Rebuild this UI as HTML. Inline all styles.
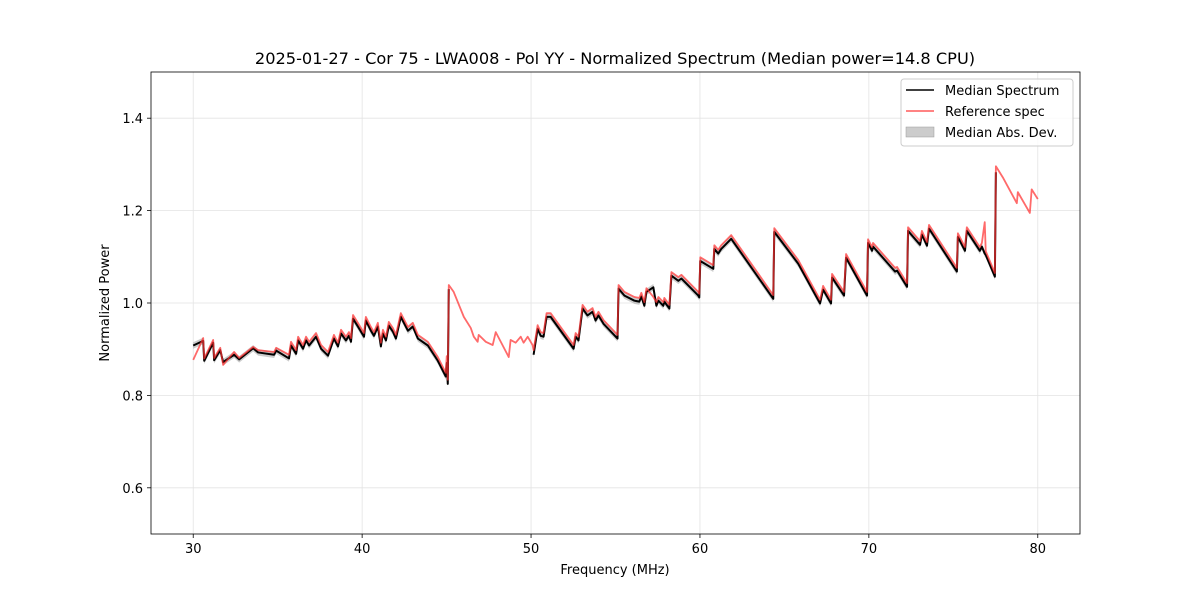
<!DOCTYPE html>
<html><head><meta charset="utf-8"><style>
body{margin:0;background:#fff;}
svg{display:block;font-family:"DejaVu Sans","Liberation Sans",sans-serif;}
</style></head><body>
<svg id="chart" width="1200" height="600">
<rect width="1200" height="600" fill="#fff"/>
<text x="615" y="64" font-size="16.2" text-anchor="middle">2025-01-27 - Cor 75 - LWA008 - Pol YY - Normalized Spectrum (Median power=14.8 CPU)</text>
<g id="grid"></g><g id="marks"></g><g id="axes"></g>
<text x="615" y="574" font-size="13" text-anchor="middle">Frequency (MHz)</text>
<text transform="translate(109,303) rotate(-90)" font-size="13" text-anchor="middle">Normalized Power</text>
<g>
<rect x="901" y="79" width="172" height="67" rx="3" fill="#fff" fill-opacity="0.8" stroke="#ccc"/>
<line x1="906" y1="90" x2="934" y2="90" stroke="#000" stroke-width="1.5"/>
<text x="945" y="95" font-size="13">Median Spectrum</text>
<line x1="906" y1="111" x2="934" y2="111" stroke="#ff5a5a" stroke-width="1.5"/>
<text x="945" y="116" font-size="13">Reference spec</text>
<rect x="906" y="127" width="28" height="10" fill="#bbb" fill-opacity="0.75" stroke="#999" stroke-width="0.5"/>
<text x="945" y="137" font-size="13">Median Abs. Dev.</text>
</g>
</svg>
<script>
const freqs=[30.0,30.59,30.65,31.18,31.24,31.60,31.77,32.42,32.72,33.55,33.84,34.79,34.91,35.67,35.79,36.09,36.21,36.50,36.68,36.86,37.27,37.57,37.98,38.33,38.57,38.75,39.04,39.22,39.34,39.46,39.75,40.11,40.22,40.52,40.70,40.93,41.11,41.23,41.41,41.58,41.82,42.00,42.29,42.71,43.00,43.30,43.89,44.48,44.95,45.01,45.07,45.13,
45.42,46.02,46.43,46.61,46.84,46.90,47.32,47.73,47.91,48.68,48.79,49.09,49.39,49.56,49.80,50.09,
50.15,50.39,50.57,50.74,50.92,51.16,52.52,52.64,52.81,53.05,53.34,53.64,53.82,53.99,54.29,55.12,55.18,55.53,56.12,56.41,56.53,56.71,56.83,57.24,57.42,57.54,57.83,57.89,58.19,58.31,58.72,58.90,59.90,59.96,60.02,60.79,60.85,61.08,61.26,61.85,64.34,64.40,65.82,67.11,67.29,67.76,67.82,68.53,68.65,69.89,69.95,70.19,70.25,71.55,71.67,72.26,72.32,73.03,73.14,73.44,73.56,75.21,75.27,75.69,75.80,76.57,76.69,76.86,76.92,77.46,77.52,
77.93,78.76,78.82,79.53,79.64,80.0];
const refPower=[.877,.924,.880,.920,.881,.903,.866,.894,.881,.905,.898,.894,.903,.888,.916,.898,.927,.909,.927,.916,.935,.909,.894,.931,.914,.942,.927,.937,.924,.974,.957,.935,.970,.948,.937,.957,.914,.942,.927,.959,.946,.931,.978,.948,.957,.931,.916,.883,.849,.885,.834,1.039,
1.024,.970,.946,.927,.916,.931,.916,.909,.937,.883,.920,.914,.927,.914,.927,.909,
.898,.952,.937,.935,.978,.978,.909,.935,.927,.996,.981,.989,.970,.981,.963,.931,1.039,1.024,1.013,1.011,1.022,1.002,1.032,1.013,1.002,1.013,1.002,1.011,.996,1.067,1.056,1.061,1.024,1.020,1.099,1.082,1.125,1.115,1.125,1.147,1.017,1.162,1.093,1.007,1.037,1.007,1.063,1.024,1.106,1.024,1.138,1.121,1.130,1.076,1.078,1.043,1.164,1.134,1.156,1.132,1.169,1.076,1.151,1.121,1.164,1.121,1.130,1.175,1.112,1.065,1.296,
1.272,1.216,1.240,1.195,1.246,1.225];
const medPower=[.908,.918,.875,.914,.876,.898,.872,.888,.878,.902,.893,.888,.897,.880,.908,.890,.919,.901,.919,.908,.927,.901,.886,.923,.906,.934,.919,.929,.916,.966,.949,.927,.962,.940,.929,.949,.906,.934,.919,.951,.938,.923,.970,.940,.949,.923,.908,.875,.841,.870,.825,1.030,
null,null,null,null,null,null,null,null,null,null,null,null,null,null,null,null,
.888,.944,.929,.927,.970,.970,.901,.927,.919,.988,.973,.981,.962,.973,.955,.923,1.031,1.016,1.005,1.003,1.014,.994,1.024,1.034,.994,1.005,.994,1.003,.988,1.059,1.048,1.053,1.016,1.012,1.091,1.074,1.117,1.107,1.117,1.139,1.009,1.154,1.085,.999,1.029,.999,1.055,1.016,1.098,1.016,1.130,1.113,1.122,1.068,1.070,1.035,1.156,1.126,1.148,1.124,1.161,1.068,1.143,1.113,1.156,1.113,1.122,1.107,1.104,1.057,1.283,
null,null,null,null,null,null];
const madWidth=[0.007];
const xTicks=[30,40,50,60,70,80];
const yTicks=[0.6,0.8,1.0,1.2,1.4];
const yTickLabels=["0.6","0.8","1.0","1.2","1.4"];

const L=151,R=1080,T=72,B=534;
const x=f=>L+(f-27.5)/55*(R-L);
const y=v=>B-(v-0.5)/1.0*(B-T);
const NS="http://www.w3.org/2000/svg";
function mk(tag,attrs,parent){const e=document.createElementNS(NS,tag);for(const k in attrs)e.setAttribute(k,attrs[k]);parent.appendChild(e);return e;}
const grid=document.getElementById('grid'),marks=document.getElementById('marks'),axes=document.getElementById('axes');

xTicks.forEach(t=>{
 const g=mk('line',{x1:x(t),x2:x(t),y1:T,y2:B,stroke:'#e3e3e3','stroke-width':0.8},grid);
 
 
 mk('line',{x1:x(t),x2:x(t),y1:B,y2:B+4,stroke:'#000','stroke-width':0.8},axes);
 const tx=mk('text',{x:x(t),y:B+19,'font-size':13,'text-anchor':'middle'},axes);
 tx.textContent=t;
 
 
});
yTicks.forEach((t,i)=>{
 const g=mk('line',{x1:L,x2:R,y1:y(t),y2:y(t),stroke:'#e3e3e3','stroke-width':0.8},grid);
 
 
 mk('line',{x1:L-4,x2:L,y1:y(t),y2:y(t),stroke:'#000','stroke-width':0.8},axes);
 const tx=mk('text',{x:L-8,y:y(t)+5,'font-size':13,'text-anchor':'end'},axes);
 tx.textContent=yTickLabels[i];
 
 
});
const frame=mk('rect',{x:L,y:T,width:R-L,height:B-T,fill:'none',stroke:'#000','stroke-width':0.8},axes);



function segments(vals){const segs=[];let cur=[];vals.forEach((v,i)=>{if(v==null){if(cur.length)segs.push(cur);cur=[];}else cur.push(i);});if(cur.length)segs.push(cur);return segs;}
const medSegs=segments(medPower);
medSegs.forEach(s=>{
 const up=s.map(i=>x(freqs[i])+','+y(medPower[i]+madWidth[0])).join(' ');
 const dn=s.slice().reverse().map(i=>x(freqs[i])+','+y(medPower[i]-madWidth[0])).join(' ');
 const p=mk('polygon',{points:up+' '+dn,fill:'#999','fill-opacity':0.5},marks);
 
 
});
medSegs.forEach(s=>{
 const p=mk('polyline',{points:s.map(i=>x(freqs[i])+','+y(medPower[i])).join(' '),fill:'none',stroke:'#000','stroke-width':2,'stroke-linejoin':'round'},marks);
 
 
});
const ref=mk('polyline',{points:freqs.map((f,i)=>x(f)+','+y(refPower[i])).join(' '),fill:'none',stroke:'#ff3030','stroke-opacity':0.72,'stroke-width':1.8,'stroke-linejoin':'round'},marks);


</script>
</body></html>
